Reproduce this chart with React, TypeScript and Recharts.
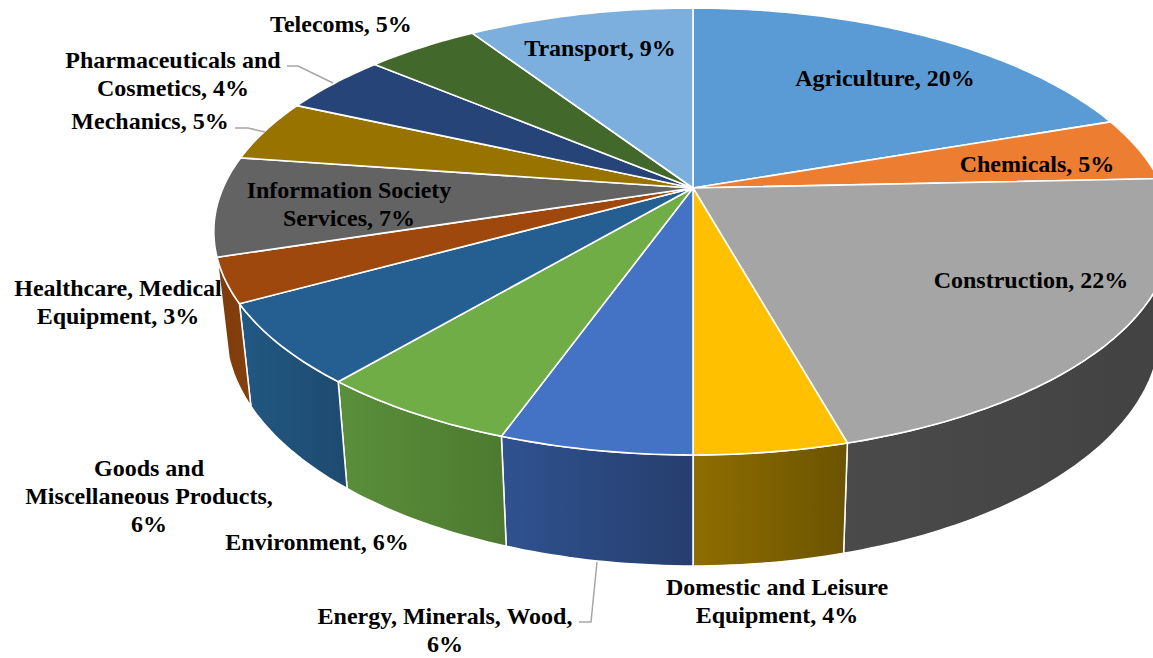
import React from 'react';
import { Pie, PieChart } from 'recharts';

// Values; the labels show the rounded percentages.
const sectors = [
  'Agriculture',
  'Chemicals',
  'Construction',
  'Domestic and Leisure Equipment',
  'Energy, Minerals, Wood',
  'Environment',
  'Goods and Miscellaneous Products',
  'Healthcare, Medical Equipment',
  'Information Society Services',
  'Mechanics',
  'Pharmaceuticals and Cosmetics',
  'Telecoms',
  'Transport',
];
const shares = [19.7, 4.6, 21.4, 4.3, 5.4, 5.7, 5.8, 3.2, 7.2, 4.5, 4.4, 4.6, 9.2];
const topColors = [
  '#5B9BD5', '#ED7D31', '#A5A5A5', '#FFC000', '#4472C4', '#70AD47', '#255E91',
  '#9E480E', '#636363', '#997300', '#264478', '#43682B', '#7CAFDD',
];
const wallStart = [
  '#4a7fb0', '#c06428', '#4a4a4a', '#8f6e00', '#2f5290', '#5a8f3a', '#215882',
  '#7e3a0b', '#444444', '#7a5c00', '#1d3560', '#35521f', '#638cb1',
];
const wallEnd = [
  '#4a7fb0', '#c06428', '#424242', '#6b5300', '#263e6e', '#4d7a30', '#1e4a70',
  '#84400d', '#444444', '#7a5c00', '#1d3560', '#35521f', '#638cb1',
];

type Callout = { lines: string[]; x: number; y: number; leader?: number[][] };
const callouts: Callout[] = [
  { lines: ['Agriculture, 20%'], x: 885, y: 86 },
  { lines: ['Chemicals, 5%'], x: 1037, y: 172 },
  { lines: ['Construction, 22%'], x: 1031, y: 288 },
  { lines: ['Domestic and Leisure', 'Equipment, 4%'], x: 777, y: 595 },
  {
    lines: ['Energy, Minerals, Wood,', '6%'],
    x: 445,
    y: 624,
    leader: [[579, 622], [591, 622], [597, 562]],
  },
  { lines: ['Environment, 6%'], x: 317, y: 550 },
  { lines: ['Goods and', 'Miscellaneous Products,', '6%'], x: 149, y: 476 },
  { lines: ['Healthcare, Medical', 'Equipment, 3%'], x: 118, y: 296 },
  { lines: ['Information Society', 'Services, 7%'], x: 349, y: 198 },
  {
    lines: ['Mechanics, 5%'],
    x: 150,
    y: 129,
    leader: [[235, 128], [248, 128], [265, 132]],
  },
  {
    lines: ['Pharmaceuticals and', 'Cosmetics, 4%'],
    x: 173,
    y: 68,
    leader: [[287, 66], [298, 66], [333, 83]],
  },
  { lines: ['Telecoms, 5%'], x: 341, y: 32 },
  { lines: ['Transport, 9%'], x: 600, y: 56 },
];

const data = sectors.map((name, i) => ({ name, value: shares[i] }));

// Perspective of the tilted disc: the far edge sits closer to the apex than the near one.
const TILT = 0.4574;
const RECEDE = 0.1947;
// The bottom rim is the top rim shrunk sideways, stretched and dropped.
const RIM_X = 0.975;
const RIM_Y = 1.056;
const RIM_DROP = 96;

const project = (cx: number, cy: number, r: number, deg: number) => {
  const a = (deg * Math.PI) / 180;
  const w = 1 + RECEDE * Math.sin(a);
  return [cx + (r * Math.cos(a)) / w, cy - (r * TILT * Math.sin(a)) / w];
};

const arc = (p: any) => {
  const steps = Math.max(2, Math.ceil(Math.abs(p.endAngle - p.startAngle)));
  const pts: number[][] = [];
  for (let i = 0; i <= steps; i++) {
    const deg = p.startAngle + ((p.endAngle - p.startAngle) * i) / steps;
    pts.push(project(p.cx, p.cy, p.outerRadius, deg));
  }
  return pts;
};

const toPath = (pts: number[][]) =>
  pts.map((q, i) => `${i ? 'L' : 'M'}${q[0].toFixed(1)} ${q[1].toFixed(1)}`).join(' ') + ' Z';

const TopFace = (p: any) => (
  <path
    d={toPath([[p.cx, p.cy], ...arc(p)])}
    fill={topColors[p.index]}
    stroke="#fff"
    strokeWidth={1.6}
    strokeLinejoin="round"
  />
);

const Wall = (p: any) => {
  const mid = (((p.startAngle + p.endAngle) / 2) * Math.PI) / 180;
  if (Math.sin(mid) > -0.1) return <g />;
  const top = arc(p);
  const bottom = top
    .map((q) => [
      p.cx + (q[0] - p.cx) * RIM_X,
      p.cy + RIM_DROP + (q[1] - p.cy) * RIM_Y,
    ])
    .reverse();
  const id = `wall-${p.index}`;
  return (
    <g>
      <defs>
        <linearGradient id={id} x1="0" x2="1" y1="0" y2="0">
          <stop offset="0" stopColor={wallStart[p.index]} />
          <stop offset="1" stopColor={wallEnd[p.index]} />
        </linearGradient>
      </defs>
      <path
        d={toPath([...top, ...bottom])}
        fill={`url(#${id})`}
        stroke="#fff"
        strokeWidth={1.5}
        strokeLinejoin="round"
      />
    </g>
  );
};

const renderCallout = (p: any) => {
  const c = callouts[p.index];
  return (
    <g key={c.lines[0]}>
      {c.leader && (
        <polyline
          points={c.leader.map((q) => q.join(',')).join(' ')}
          fill="none"
          stroke="#a6a6a6"
          strokeWidth={1.5}
        />
      )}
      <text
        textAnchor="middle"
        fontFamily="'Liberation Serif', serif"
        fontWeight="bold"
        fontSize={24}
        fill="#000"
      >
        {c.lines.map((line, i) => (
          <tspan key={line} x={c.x} y={c.y + i * 28}>
            {line}
          </tspan>
        ))}
      </text>
    </g>
  );
};

const App = () => (
  <div
    style={{
      position: 'absolute',
      left: 0,
      top: 0,
      width: 1153,
      height: 658,
      overflow: 'hidden',
      background: '#fff',
    }}
  >
    <PieChart width={1153} height={658} margin={{ top: 0, right: 0, bottom: 0, left: 0 }}>
      <Pie
        data={data}
        dataKey="value"
        cx={693}
        cy={188}
        outerRadius={470}
        startAngle={90}
        endAngle={-270}
        shape={Wall}
        isAnimationActive={false}
      />
      <Pie
        data={data}
        dataKey="value"
        cx={693}
        cy={188}
        outerRadius={470}
        startAngle={90}
        endAngle={-270}
        shape={TopFace}
        label={renderCallout}
        labelLine={false}
        isAnimationActive={false}
      />
    </PieChart>
  </div>
);

export default App;
